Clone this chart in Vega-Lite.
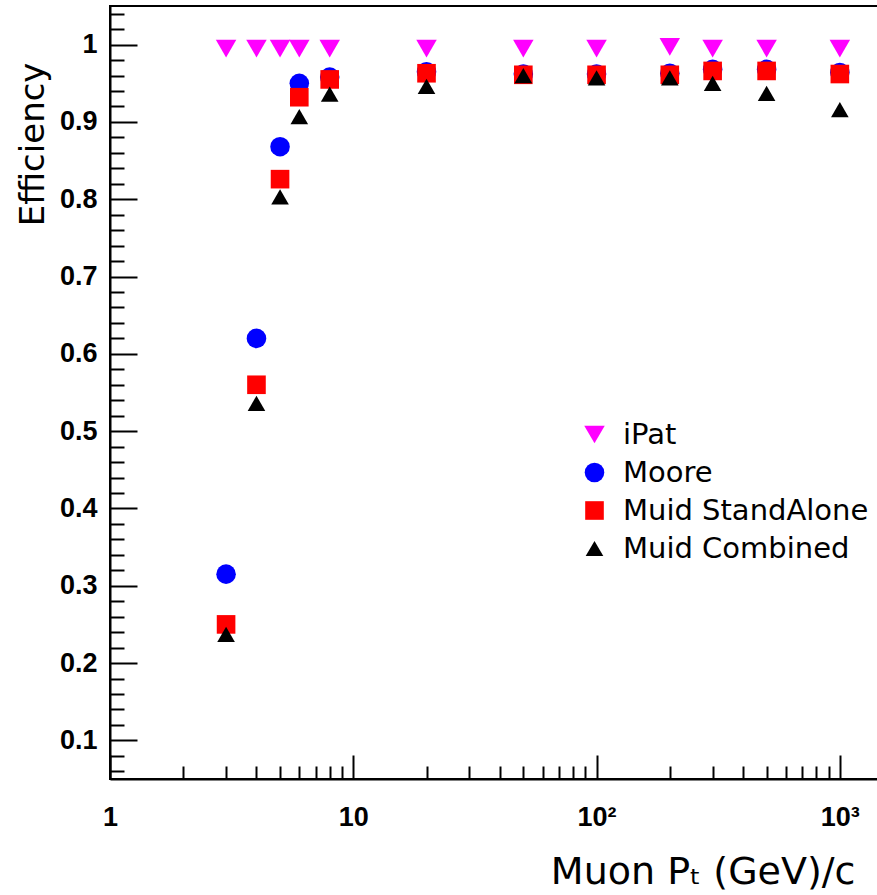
{
  "$schema": "https://vega.github.io/schema/vega-lite/v6.json",
  "autosize": "none",
  "width": 768,
  "height": 773,
  "padding": {"left": 110, "top": 6, "right": 0, "bottom": 116},
  "background": "white",
  "view": {"stroke": "black", "strokeWidth": 2},
  "config": {
    "legend": {
      "orient": "none",
      "legendX": 470,
      "legendY": 414,
      "labelFont": "DejaVu Sans",
      "labelFontSize": 29,
      "labelColor": "black",
      "symbolSize": 225,
      "symbolStrokeWidth": 0,
      "rowPadding": 8,
      "labelOffset": 14,
      "labelLimit": 0
    }
  },
  "data": {
    "values": [
      {"series": "iPat", "pt": 3, "eff": 0.995},
      {"series": "iPat", "pt": 4, "eff": 0.995},
      {"series": "iPat", "pt": 5, "eff": 0.995},
      {"series": "iPat", "pt": 6, "eff": 0.995},
      {"series": "iPat", "pt": 8, "eff": 0.995},
      {"series": "iPat", "pt": 20, "eff": 0.995},
      {"series": "iPat", "pt": 50, "eff": 0.995},
      {"series": "iPat", "pt": 100, "eff": 0.995},
      {"series": "iPat", "pt": 200, "eff": 0.997},
      {"series": "iPat", "pt": 300, "eff": 0.995},
      {"series": "iPat", "pt": 500, "eff": 0.995},
      {"series": "iPat", "pt": 1000, "eff": 0.995},
      {"series": "Moore", "pt": 3, "eff": 0.315},
      {"series": "Moore", "pt": 4, "eff": 0.62},
      {"series": "Moore", "pt": 5, "eff": 0.868},
      {"series": "Moore", "pt": 6, "eff": 0.95},
      {"series": "Moore", "pt": 8, "eff": 0.958},
      {"series": "Moore", "pt": 20, "eff": 0.965},
      {"series": "Moore", "pt": 50, "eff": 0.962},
      {"series": "Moore", "pt": 100, "eff": 0.962},
      {"series": "Moore", "pt": 200, "eff": 0.963},
      {"series": "Moore", "pt": 300, "eff": 0.968},
      {"series": "Moore", "pt": 500, "eff": 0.968},
      {"series": "Moore", "pt": 1000, "eff": 0.964},
      {"series": "Muid StandAlone", "pt": 3, "eff": 0.25},
      {"series": "Muid StandAlone", "pt": 4, "eff": 0.56},
      {"series": "Muid StandAlone", "pt": 5, "eff": 0.826},
      {"series": "Muid StandAlone", "pt": 6, "eff": 0.932},
      {"series": "Muid StandAlone", "pt": 8, "eff": 0.955},
      {"series": "Muid StandAlone", "pt": 20, "eff": 0.963},
      {"series": "Muid StandAlone", "pt": 50, "eff": 0.961},
      {"series": "Muid StandAlone", "pt": 100, "eff": 0.961},
      {"series": "Muid StandAlone", "pt": 200, "eff": 0.961},
      {"series": "Muid StandAlone", "pt": 300, "eff": 0.966},
      {"series": "Muid StandAlone", "pt": 500, "eff": 0.966},
      {"series": "Muid StandAlone", "pt": 1000, "eff": 0.962},
      {"series": "Muid Combined", "pt": 3, "eff": 0.237},
      {"series": "Muid Combined", "pt": 4, "eff": 0.536},
      {"series": "Muid Combined", "pt": 5, "eff": 0.803},
      {"series": "Muid Combined", "pt": 6, "eff": 0.907},
      {"series": "Muid Combined", "pt": 8, "eff": 0.936},
      {"series": "Muid Combined", "pt": 20, "eff": 0.946},
      {"series": "Muid Combined", "pt": 50, "eff": 0.96},
      {"series": "Muid Combined", "pt": 100, "eff": 0.957},
      {"series": "Muid Combined", "pt": 200, "eff": 0.957},
      {"series": "Muid Combined", "pt": 300, "eff": 0.95},
      {"series": "Muid Combined", "pt": 500, "eff": 0.937},
      {"series": "Muid Combined", "pt": 1000, "eff": 0.916}
    ]
  },
  "mark": {"type": "point", "filled": true, "opacity": 1, "strokeWidth": 0},
  "encoding": {
    "x": {
      "field": "pt",
      "type": "quantitative",
      "scale": {"type": "log", "domain": [1, 1435], "nice": false},
      "axis": {
        "values": [1,2,3,4,5,6,7,8,9,10,20,30,40,50,60,70,80,90,100,200,300,400,500,600,700,800,900,1000],
        "labelExpr": "datum.value == 1 ? '1' : datum.value == 10 ? '10' : datum.value == 100 ? '10²' : datum.value == 1000 ? '10³' : ''",
        "labelOverlap": false,
        "labelFlush": false,
        "tickSize": {"condition": {"test": "abs(log(datum.value)/LN10 - round(log(datum.value)/LN10)) < 0.001", "value": -24}, "value": -13},
        "tickWidth": 2,
        "tickColor": "black",
        "domainColor": "black",
        "domainWidth": 2,
        "grid": false,
        "labelFont": "Liberation Sans",
        "labelFontWeight": "bold",
        "labelFontSize": 27,
        "labelColor": "black",
        "labelPadding": 49,
        "title": "Muon Pₜ (GeV)/c",
        "titleFont": "DejaVu Sans",
        "titleFontSize": 38,
        "titleFontWeight": "normal",
        "titleColor": "black",
        "titleAnchor": "end",
        "titleAlign": "right",
        "titleBaseline": "alphabetic",
        "titleX": 745,
        "titleY": 104
      }
    },
    "y": {
      "field": "eff",
      "type": "quantitative",
      "scale": {"domain": [0.05, 1.05], "nice": false, "zero": false},
      "axis": {
        "values": [0.06,0.08,0.1,0.12,0.14,0.16,0.18,0.2,0.22,0.24,0.26,0.28,0.3,0.32,0.34,0.36,0.38,0.4,0.42,0.44,0.46,0.48,0.5,0.52,0.54,0.56,0.58,0.6,0.62,0.64,0.66,0.68,0.7,0.72,0.74,0.76,0.78,0.8,0.82,0.84,0.86,0.88,0.9,0.92,0.94,0.96,0.98,1,1.02,1.04],
        "labelExpr": "abs(datum.value*10 - round(datum.value*10)) < 0.001 ? (abs(datum.value - 1) < 0.001 ? '1' : format(datum.value, '.1f')) : ''",
        "labelOverlap": false,
        "labelFlush": false,
        "tickSize": {"condition": {"test": "abs(datum.value*10 - round(datum.value*10)) < 0.001", "value": -27}, "value": -14},
        "tickWidth": 2,
        "tickColor": "black",
        "domainColor": "black",
        "domainWidth": 2,
        "grid": false,
        "labelFont": "Liberation Sans",
        "labelFontWeight": "bold",
        "labelFontSize": 27,
        "labelColor": "black",
        "labelPadding": 40,
        "title": "Efficiency",
        "titleFont": "DejaVu Sans",
        "titleFontSize": 34,
        "titleFontWeight": "normal",
        "titleColor": "black",
        "titleAnchor": "end",
        "titleAlign": "right",
        "titleBaseline": "alphabetic",
        "titleAngle": -90,
        "titleX": -67,
        "titleY": 56
      }
    },
    "color": {
      "field": "series",
      "type": "nominal",
      "scale": {"domain": ["iPat", "Moore", "Muid StandAlone", "Muid Combined"], "range": ["#ff00ff", "#0000ff", "#ff0000", "#000000"]},
      "legend": {"title": null}
    },
    "shape": {
      "field": "series",
      "type": "nominal",
      "scale": {"domain": ["iPat", "Moore", "Muid StandAlone", "Muid Combined"], "range": ["triangle-down", "circle", "square", "triangle-up"]},
      "legend": {"title": null}
    },
    "size": {
      "field": "series",
      "type": "nominal",
      "scale": {"domain": ["iPat", "Moore", "Muid StandAlone", "Muid Combined"], "range": [420, 310, 289, 400]},
      "legend": null
    }
  }
}
